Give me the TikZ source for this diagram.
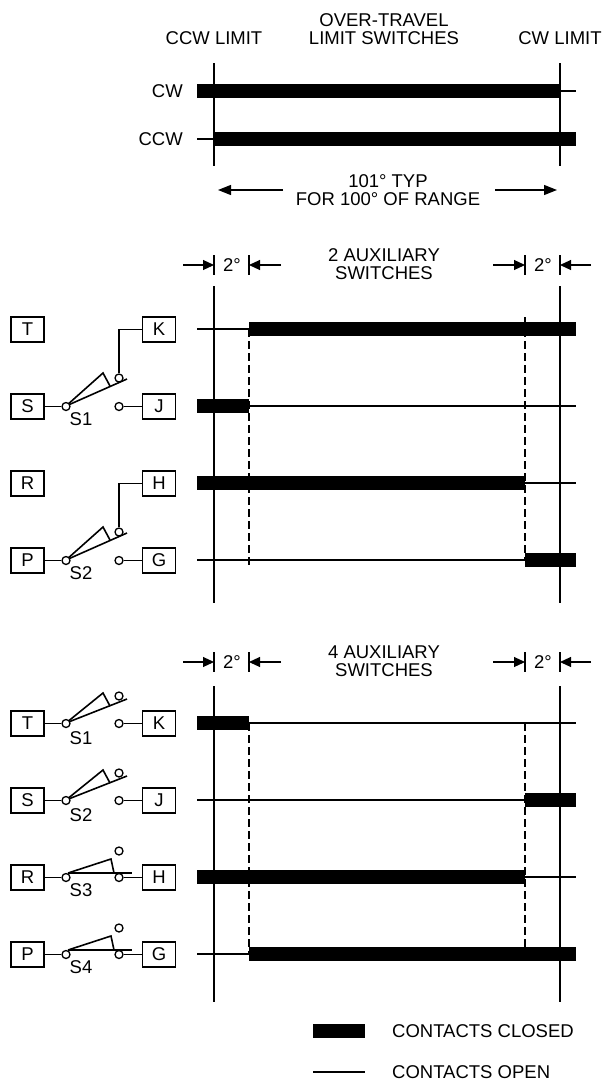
\documentclass[tikz,border=0pt]{standalone}
\usepackage{fontspec}
\setmainfont{Liberation Sans}
\usetikzlibrary{positioning}
\usetikzlibrary{arrows.meta}

\tikzset{
  label/.style={inner sep=0pt, font=\fontsize{18.5}{18}\selectfont, align=center},
  terminal/.style={draw, line width=1.5pt, minimum width=33pt, minimum height=25pt, inner sep=0pt, font=\fontsize{18.5}{18}\selectfont},
  contact/.style={draw, circle, line width=1.3pt, minimum size=8pt, inner sep=0pt, fill=white},
  limit/.style={line width=2pt},
  closed/.style={line width=13.5pt},
  open/.style={line width=1.5pt},
  wire/.style={line width=1.6pt},
  dim/.style={line width=1.1pt, -{Triangle[length=11pt,width=10pt]}},
  span/.style={line width=1.3pt, -{Triangle[length=13pt,width=10pt]}},
  guide/.style={line width=1.1pt, dash pattern=on 8pt off 4pt},
}

\begin{document}
\begin{tikzpicture}[x=1pt, y=-1pt]

  \useasboundingbox (0,0) rectangle (603,1082);

  % Header
  \node[label] (ccwlimit) at (214,38) {CCW LIMIT};
  \node[label] (title) at (384,29) {OVER-TRAVEL\\LIMIT SWITCHES};
  \node[label] (cwlimit) at (560,38) {CW LIMIT};
  \node[label, anchor=east] (cw) at (183,91) {CW};
  \node[label, anchor=east] (ccw) at (183,139) {CCW};
  \node[label] (range) at (388,190) {101° TYP\\FOR 100° OF RANGE};

  % Limit lines
  \coordinate (l1t) at (214,63);
  \coordinate (l1b) at (214,166);
  \coordinate (m1t) at (560,63);
  \coordinate (m1b) at (560,166);
  \coordinate (l2t) at (214,286);
  \coordinate (l2b) at (214,603);
  \coordinate (m2t) at (560,286);
  \coordinate (m2b) at (560,603);
  \coordinate (l3t) at (214,686);
  \coordinate (l3b) at (214,1002);
  \coordinate (m3t) at (560,686);
  \coordinate (m3b) at (560,1002);
  \draw[limit] (l1t) -- (l1b);
  \draw[limit] (m1t) -- (m1b);
  \draw[limit] (l2t) -- (l2b);
  \draw[limit] (m2t) -- (m2b);
  \draw[limit] (l3t) -- (l3b);
  \draw[limit] (m3t) -- (m3b);

  % Over-travel bars
  \coordinate (cwa) at (197,91);
  \coordinate (cwb) at (560,91);
  \coordinate (cwc) at (576,91);
  \coordinate (ccwa) at (197,139);
  \coordinate (ccwb) at (214,139);
  \coordinate (ccwc) at (576,139);
  \draw[closed] (cwa) -- (cwb);
  \draw[open] (cwb) -- (cwc);
  \draw[open] (ccwa) -- (ccwb);
  \draw[closed] (ccwb) -- (ccwc);

  % Range arrows
  \coordinate (rla) at (283,190);
  \coordinate (rlb) at (218,190);
  \coordinate (rra) at (495,190);
  \coordinate (rrb) at (557,190);
  \draw[span] (rla) -- (rlb);
  \draw[span] (rra) -- (rrb);

  % 2 auxiliary switches, dimensions
  \node[label] (aux2) at (384,264) {2 AUXILIARY\\SWITCHES};
  \node[label] (a2l) at (232,265) {2°};
  \node[label] (a2r) at (543,265) {2°};
  \coordinate (a2la) at (183,265);
  \coordinate (a2lb) at (214,265);
  \coordinate (a2lc) at (281,265);
  \coordinate (a2ld) at (249,265);
  \coordinate (a2ra) at (493,265);
  \coordinate (a2rb) at (525,265);
  \coordinate (a2rc) at (591,265);
  \coordinate (a2rd) at (560,265);
  \draw[dim] (a2la) -- (a2lb);
  \draw[dim] (a2lc) -- (a2ld);
  \draw[dim] (a2ra) -- (a2rb);
  \draw[dim] (a2rc) -- (a2rd);
  \draw[open] (214,255) -- (214,275);
  \draw[open] (249,255) -- (249,275);
  \draw[open] (525,255) -- (525,275);
  \draw[open] (560,255) -- (560,275);

  % 2 auxiliary switches, bars
  \coordinate (ta) at (197,329);
  \coordinate (tb) at (249,329);
  \coordinate (tc) at (576,329);
  \coordinate (ua) at (197,406);
  \coordinate (ub) at (249,406);
  \coordinate (uc) at (576,406);
  \coordinate (va) at (197,483);
  \coordinate (vb) at (525,483);
  \coordinate (vc) at (576,483);
  \coordinate (wa) at (197,560);
  \coordinate (wb) at (525,560);
  \coordinate (wc) at (576,560);
  \draw[open] (ta) -- (tb);
  \draw[closed] (tb) -- (tc);
  \draw[closed] (ua) -- (ub);
  \draw[open] (ub) -- (uc);
  \draw[closed] (va) -- (vb);
  \draw[open] (vb) -- (vc);
  \draw[open] (wa) -- (wb);
  \draw[closed] (wb) -- (wc);
  \coordinate (g2a) at (249,567);
  \coordinate (g2b) at (525,317);
  \draw[guide] (tb) -- (g2a);
  \draw[guide] (g2b) -- (wb);

  % 2 auxiliary switches, terminals
  \node[terminal] (T1) at (27.5,329.5) {T};
  \node[terminal, right=97pt of T1] (K1) {K};
  \node[terminal] (S1) at (27.5,406.5) {S};
  \node[terminal, right=97pt of S1] (J1) {J};
  \node[terminal] (R1) at (27.5,483.5) {R};
  \node[terminal, right=97pt of R1] (H1) {H};
  \node[terminal] (P1) at (27.5,560.5) {P};
  \node[terminal, right=97pt of P1] (G1) {G};

  % Switch S1
  \coordinate (s1tip) at (127,379);
  \coordinate (s1w) at (103,373);
  \coordinate (s1v) at (110,386);
  \draw[wire] (66,406) -- (s1w) -- (s1v);
  \draw[wire] (66,406) -- (s1tip);
  \node[contact] (s1p) at (66,406.5) {};
  \node[contact] (s1n) at (119,406.5) {};
  \node[contact] (s1u) at (119,378) {};
  \node[label] (s1) at (81,419) {S1};
  \draw[wire] (S1) -- (s1p);
  \draw[wire] (s1n) -- (J1);
  \draw[wire] (s1u) |- (K1);

  % Switch S2
  \coordinate (s2tip) at (127,533);
  \coordinate (s2w) at (103,527);
  \coordinate (s2v) at (110,540);
  \draw[wire] (66,560) -- (s2w) -- (s2v);
  \draw[wire] (66,560) -- (s2tip);
  \node[contact] (s2p) at (66,560.5) {};
  \node[contact] (s2n) at (119,560.5) {};
  \node[contact] (s2u) at (119,532) {};
  \node[label] (s2) at (81,573) {S2};
  \draw[wire] (P1) -- (s2p);
  \draw[wire] (s2n) -- (G1);
  \draw[wire] (s2u) |- (H1);

  % 4 auxiliary switches, dimensions
  \node[label] (aux4) at (384,661) {4 AUXILIARY\\SWITCHES};
  \node[label] (a4l) at (232,662) {2°};
  \node[label] (a4r) at (543,662) {2°};
  \coordinate (a4la) at (183,662);
  \coordinate (a4lb) at (214,662);
  \coordinate (a4lc) at (281,662);
  \coordinate (a4ld) at (249,662);
  \coordinate (a4ra) at (493,662);
  \coordinate (a4rb) at (525,662);
  \coordinate (a4rc) at (591,662);
  \coordinate (a4rd) at (560,662);
  \draw[dim] (a4la) -- (a4lb);
  \draw[dim] (a4lc) -- (a4ld);
  \draw[dim] (a4ra) -- (a4rb);
  \draw[dim] (a4rc) -- (a4rd);
  \draw[open] (214,652) -- (214,672);
  \draw[open] (249,652) -- (249,672);
  \draw[open] (525,652) -- (525,672);
  \draw[open] (560,652) -- (560,672);

  % 4 auxiliary switches, bars
  \coordinate (xa) at (197,723);
  \coordinate (xb) at (249,723);
  \coordinate (xc) at (576,723);
  \coordinate (ya) at (197,800);
  \coordinate (yb) at (525,800);
  \coordinate (yc) at (576,800);
  \coordinate (za) at (197,877);
  \coordinate (zb) at (525,877);
  \coordinate (zc) at (576,877);
  \coordinate (qa) at (197,954);
  \coordinate (qb) at (249,954);
  \coordinate (qc) at (576,954);
  \draw[closed] (xa) -- (xb);
  \draw[open] (xb) -- (xc);
  \draw[open] (ya) -- (yb);
  \draw[closed] (yb) -- (yc);
  \draw[closed] (za) -- (zb);
  \draw[open] (zb) -- (zc);
  \draw[open] (qa) -- (qb);
  \draw[closed] (qb) -- (qc);
  \coordinate (g4a) at (525,950);
  \coordinate (g4b) at (525,723);
  \draw[guide] (xb) -- (qb);
  \draw[guide] (g4b) -- (g4a);

  % 4 auxiliary switches, terminals
  \node[terminal] (T2) at (27.5,723.5) {T};
  \node[terminal, right=97pt of T2] (K2) {K};
  \node[terminal] (S2) at (27.5,800.5) {S};
  \node[terminal, right=97pt of S2] (J2) {J};
  \node[terminal] (R2) at (27.5,877.5) {R};
  \node[terminal, right=97pt of R2] (H2) {H};
  \node[terminal] (P2) at (27.5,954.5) {P};
  \node[terminal, right=97pt of P2] (G2) {G};

  % Switch S1, second set
  \coordinate (t1tip) at (127,699);
  \coordinate (t1w) at (103,693);
  \coordinate (t1v) at (110,706);
  \draw[wire] (66,723) -- (t1w) -- (t1v);
  \draw[wire] (66,723) -- (t1tip);
  \node[contact] (t1p) at (66,723.5) {};
  \node[contact] (t1n) at (119,723.5) {};
  \node[contact] (t1u) at (119,696) {};
  \node[label] (t1) at (81,738) {S1};
  \draw[wire] (T2) -- (t1p);
  \draw[wire] (t1n) -- (K2);

  % Switch S2, second set
  \coordinate (t2tip) at (127,776);
  \coordinate (t2w) at (103,770);
  \coordinate (t2v) at (110,783);
  \draw[wire] (66,800) -- (t2w) -- (t2v);
  \draw[wire] (66,800) -- (t2tip);
  \node[contact] (t2p) at (66,800.5) {};
  \node[contact] (t2n) at (119,800.5) {};
  \node[contact] (t2u) at (119,773) {};
  \node[label] (t2) at (81,815) {S2};
  \draw[wire] (S2) -- (t2p);
  \draw[wire] (t2n) -- (J2);

  % Switch S3
  \coordinate (t3tail) at (68,873);
  \coordinate (t3tip) at (132,873);
  \coordinate (t3w) at (111,859);
  \coordinate (t3v) at (114,873);
  \node[contact] (t3p) at (66,877.5) {};
  \node[contact] (t3n) at (119,877.5) {};
  \node[contact] (t3u) at (119,851) {};
  \draw[wire] (t3tail) -- (t3w) -- (t3v);
  \draw[wire] (t3tail) -- (t3tip);
  \node[label] (t3) at (81,890) {S3};
  \draw[wire] (R2) -- (t3p);
  \draw[wire] (t3n) -- (H2);

  % Switch S4
  \coordinate (t4tail) at (68,950);
  \coordinate (t4tip) at (132,950);
  \coordinate (t4w) at (111,936);
  \coordinate (t4v) at (114,950);
  \node[contact] (t4p) at (66,954.5) {};
  \node[contact] (t4n) at (119,954.5) {};
  \node[contact] (t4u) at (119,928) {};
  \draw[wire] (t4tail) -- (t4w) -- (t4v);
  \draw[wire] (t4tail) -- (t4tip);
  \node[label] (t4) at (81,967) {S4};
  \draw[wire] (P2) -- (t4p);
  \draw[wire] (t4n) -- (G2);

  % Legend
  \coordinate (ka) at (313,1031);
  \coordinate (kb) at (365,1031);
  \coordinate (oa) at (313,1072);
  \coordinate (ob) at (365,1072);
  \draw[closed] (ka) -- (kb);
  \draw[open] (oa) -- (ob);
  \node[label, anchor=west] (closedtext) at (392,1031) {CONTACTS CLOSED};
  \node[label, anchor=west] (opentext) at (392,1072) {CONTACTS OPEN};

\end{tikzpicture}
\end{document}
